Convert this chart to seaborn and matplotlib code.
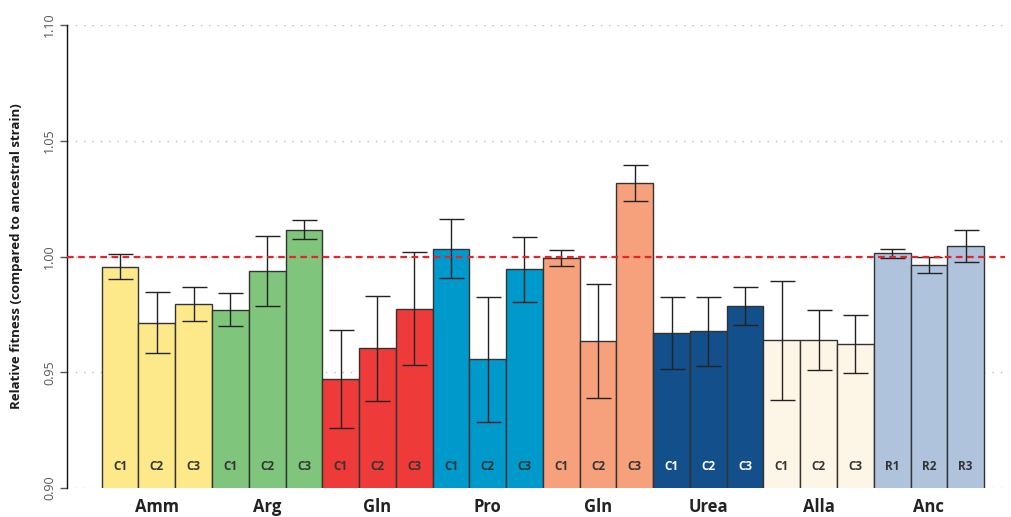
import numpy as np
import pandas as pd
import matplotlib
matplotlib.use('Agg')
import matplotlib.pyplot as plt
import seaborn as sns

# Data
groups = ['Amm', 'Arg', 'Gln', 'Pro', 'Gln', 'Urea', 'Alla', 'Anc']
bar_labels = ['C1', 'C2', 'C3'] * 7 + ['R1', 'R2', 'R3']
fitness = [0.9956, 0.9714, 0.9794,
           0.9770, 0.9936, 1.0114,
           0.9470, 0.9603, 0.9772,
           1.0034, 0.9556, 0.9945,
           0.9992, 0.9635, 1.0319,
           0.9668, 0.9677, 0.9788,
           0.9638, 0.9641, 0.9622,
           1.0014, 0.9962, 1.0045]
err_upper = [1.0010, 0.9845, 0.9867,
             0.9844, 1.0087, 1.0156,
             0.9681, 0.9831, 1.0018,
             1.0161, 0.9826, 1.0086,
             1.0029, 0.9883, 1.0397,
             0.9824, 0.9825, 0.9868,
             0.9895, 0.9770, 0.9749,
             1.0032, 0.9996, 1.0116]
err_lower = [0.9903, 0.9583, 0.9721,
             0.9698, 0.9785, 1.0074,
             0.9258, 0.9376, 0.9530,
             0.9909, 0.9286, 0.9802,
             0.9958, 0.9387, 1.0241,
             0.9513, 0.9527, 0.9705,
             0.9380, 0.9511, 0.9497,
             0.9992, 0.9929, 0.9975]
group_colors = ['#FDE98A', '#7FC57B', '#EE3A39', '#0099CC',
                '#F6A07C', '#134F8A', '#FDF5E5', '#AFC3DD']
label_colors = ['#333333'] * 5 + ['white'] + ['#333333'] * 2

n_bars = len(fitness)
df = pd.DataFrame({
    'bar': [f'b{i}' for i in range(n_bars)],
    'fitness': fitness,
    'group': [g for g in groups for _ in range(3)],
})
bar_palette = [c for c in group_colors for _ in range(3)]

sns.set_style('white')
plt.rcParams['font.family'] = ['Open Sans', 'DejaVu Sans']

fig = plt.figure(figsize=(10.11, 5.17), dpi=100)
ax = fig.add_axes([67 / 1011, 1 - 488 / 517, (1005 - 67) / 1011, (488 - 25) / 517])

sns.barplot(data=df, x='bar', y='fitness', hue='bar', palette=bar_palette,
            legend=False, width=1.0, saturation=1, edgecolor='#333333',
            linewidth=1.0, ax=ax, errorbar=None, zorder=3)
xs = np.arange(n_bars)
ax.errorbar(xs, fitness,
            yerr=[np.array(fitness) - np.array(err_lower), np.array(err_upper) - np.array(fitness)],
            fmt='none', ecolor='#222222', elinewidth=1.0, capsize=9, capthick=1.0, zorder=4)

ax.set_ylim(0.90, 1.10)
ax.set_xlim(-1.444, 24.07)
yt = [0.90, 0.95, 1.00, 1.05, 1.10]
ax.set_yticks(yt)
ax.set_yticklabels([f'{v:.2f}' for v in yt], rotation=90, va='center',
                   fontsize=9, color='#555555')
for v in yt:
    ax.axhline(v, color='#bbbbbb', lw=1.0, ls=(0, (1, 5)), zorder=1)
ax.axhline(1.0, color='#E8232A', lw=1.6, ls=(0, (3, 2)), zorder=5)

ax.tick_params(axis='y', length=5, width=1, color='#555555', pad=3, left=True)
ax.tick_params(axis='x', length=0, labelbottom=False)
for s in ['top', 'right', 'bottom']:
    ax.spines[s].set_visible(False)
ax.spines['left'].set_color('#111111')
ax.spines['left'].set_linewidth(1.0)
ax.set_xlabel('')
ax.set_ylabel('Relative fitness (compared to ancestral strain)', fontsize=9.5,
              fontweight='bold', color='#1a1a1a', labelpad=14)

for i, lab in enumerate(bar_labels):
    ax.text(i, 0.9092, lab, ha='center', va='center', fontsize=8.5,
            fontweight='bold', color=label_colors[i // 3], zorder=6)

for g, name in enumerate(groups):
    ax.text(3 * g + 1, -0.041, name, transform=ax.get_xaxis_transform(),
            ha='center', va='center', fontsize=12, fontweight='bold',
            color='#222222', clip_on=False)

fig.savefig('out.png', dpi=100)
